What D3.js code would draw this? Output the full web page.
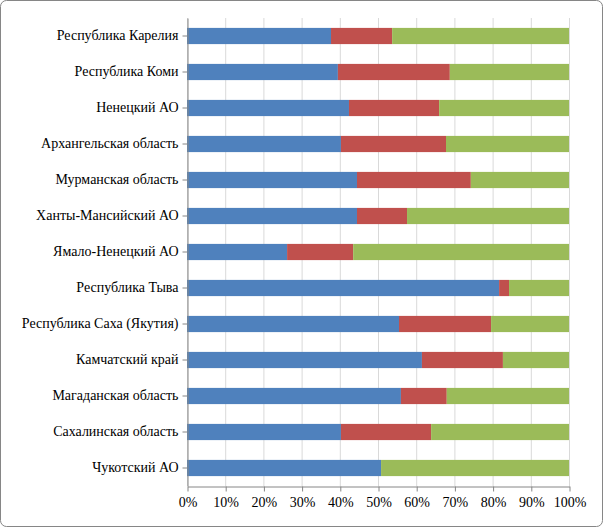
<!DOCTYPE html>
<html><head><meta charset="utf-8">
<script src="https://cdn.jsdelivr.net/npm/d3@7"></script>
<style>body{margin:0;background:#fff}</style>
</head><body><div id="chart"></div>
<script>
// категории и доли (%)
var regions = ["Республика Карелия","Республика Коми","Ненецкий АО","Архангельская область","Мурманская область","Ханты-Мансийский АО","Ямало-Ненецкий АО","Республика Тыва","Республика Саха (Якутия)","Камчатский край","Магаданская область","Сахалинская область","Чукотский АО"];
var part1 = [37.7, 39.5, 42.4, 40.3, 44.5, 44.5, 26.2, 81.7, 55.5, 61.5, 56.0, 40.3, 50.8];
var part2 = [16.0, 29.3, 23.6, 27.5, 29.8, 13.1, 17.3, 2.6, 24.1, 21.2, 12.0, 23.6, 0];
var part3 = part1.map(function(d, i){ return 100 - d - part2[i]; });
var ticks = [0,10,20,30,40,50,60,70,80,90,100];
var colors = ["#4f81bd", "#c0504d", "#9bbb59"];

var width = 603, height = 527;
var padding = {left:187, right:34, top:18, bottom:41};

var svg = d3.select("#chart").append("svg")
    .attr("width", width).attr("height", height);

svg.append("rect").attr("x",0.5).attr("y",0.5).attr("width",width-1).attr("height",height-1)
    .attr("rx",6).attr("fill","#fff").attr("stroke","#868686");

var xScale = d3.scaleLinear().domain([0,100]).range([padding.left, width - padding.right]);
var yScale = d3.scaleBand().domain(regions).range([padding.top, height - padding.bottom]).paddingInner(0.55).paddingOuter(0.275);

// сетка
svg.append("g").selectAll("line").data(ticks).enter().append("line")
    .attr("x1", function(d){ return xScale(d) + 0.5; })
    .attr("x2", function(d){ return xScale(d) + 0.5; })
    .attr("y1", padding.top).attr("y2", height - padding.bottom)
    .attr("stroke", "#d9d9d9");

var stack = regions.map(function(r, i){ return {r:r, v:[part1[i], part2[i], part3[i]]}; });
stack.forEach(function(row){
    var acc = 0;
    row.v.forEach(function(v, k){
        svg.append("rect")
            .attr("x", xScale(acc)).attr("y", yScale(row.r))
            .attr("width", xScale(acc + v) - xScale(acc))
            .attr("height", yScale.bandwidth())
            .attr("fill", colors[k]);
        acc += v;
    });
});

var xAxis = d3.axisBottom(xScale).tickValues(ticks).tickSizeInner(5).tickSizeOuter(0)
    .tickFormat(function(d){ return d + "%"; });
var gx = svg.append("g").attr("transform","translate(0.5," + (height - padding.bottom + 0.5) + ")").call(xAxis);
gx.selectAll("path,line").attr("stroke","#868686");
gx.selectAll("text").attr("font-family","Liberation Serif").attr("font-size",14).attr("fill","#000").attr("dy","0.9em");

var yAxis = d3.axisLeft(yScale).tickSizeInner(5).tickSizeOuter(0);
var gy = svg.append("g").attr("transform","translate(" + (padding.left + 0.5) + ",0)").call(yAxis);
gy.selectAll("path,line").attr("stroke","#868686");
gy.selectAll("text").attr("font-family","Liberation Serif").attr("font-size",14).attr("fill","#000").attr("x",-9);
</script></body></html>
